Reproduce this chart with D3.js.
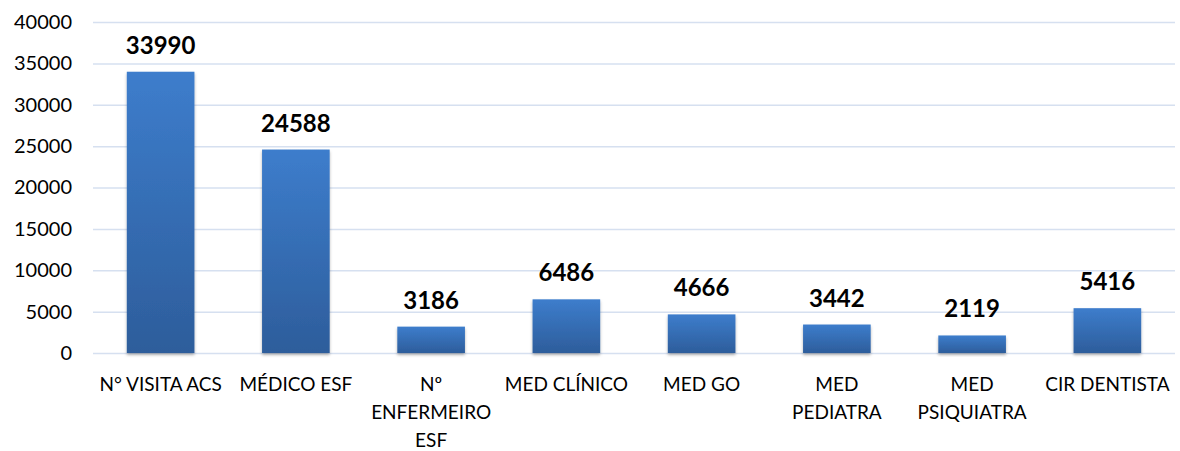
<!doctype html>
<html>
  <head>
    <meta charset="utf-8">
    <script src="https://cdn.jsdelivr.net/npm/d3@7/dist/d3.min.js"></script>
    <style>
      body { margin: 0; background: #fff; }
      text { font-family: Lato, "Open Sans", sans-serif; }
    </style>
  </head>
  <body>
    <div id="chart"></div>
    <script>
      // data
      var categories = ["N° VISITA ACS", "MÉDICO ESF", "Nº ENFERMEIRO ESF", "MED CLÍNICO",
                        "MED GO", "MED PEDIATRA", "MED PSIQUIATRA", "CIR DENTISTA"];
      var values = [33990, 24588, 3186, 6486, 4666, 3442, 2119, 5416];
      var yTicks = [0, 5000, 10000, 15000, 20000, 25000, 30000, 35000, 40000];
      // how each category label is broken in lines
      var labelLines = [["N° VISITA ACS"], ["MÉDICO ESF"], ["Nº", "ENFERMEIRO", "ESF"], ["MED CLÍNICO"],
                        ["MED GO"], ["MED", "PEDIATRA"], ["MED", "PSIQUIATRA"], ["CIR DENTISTA"]];

      var data = categories.map(function(c, i) { return {name: c, value: values[i], lines: labelLines[i]}; });

      var W = 1180, H = 451;
      var margin = {top: 22, right: 5, bottom: 98, left: 93};
      var width = W - margin.left - margin.right,
          height = H - margin.top - margin.bottom;

      var svg = d3.select("#chart").append("svg")
          .attr("width", W).attr("height", H)
        .append("g")
          .attr("transform", "translate(" + margin.left + "," + margin.top + ")");

      var defs = svg.append("defs");
      var grad = defs.append("linearGradient")
          .attr("id", "barGrad").attr("x1", 0).attr("y1", 0).attr("x2", 0).attr("y2", 1);
      grad.append("stop").attr("offset", "0%").attr("stop-color", "#3d7dcc");
      grad.append("stop").attr("offset", "100%").attr("stop-color", "#2d5d9b");

      var shadow = defs.append("filter").attr("id", "shadow")
          .attr("x", "-20%").attr("y", "-20%").attr("width", "140%").attr("height", "140%");
      shadow.append("feDropShadow").attr("dx", 0).attr("dy", 2).attr("stdDeviation", 1.5)
          .attr("flood-color", "#000").attr("flood-opacity", 0.3);

      var x = d3.scaleBand()
          .domain(categories)
          .range([0, width])
          .paddingInner(0.5)
          .paddingOuter(0.25);

      var y = d3.scaleLinear()
          .domain([0, 40000])
          .range([height, 0]);

      // gridlines
      svg.append("g")
          .call(d3.axisLeft(y).tickValues(yTicks).tickSize(-width).tickFormat(""))
          .call(function(g) {
            g.select(".domain").remove();
            g.selectAll("line").attr("stroke", "#d6e0f0").attr("stroke-width", 1.5);
          });

      // y labels
      svg.append("g")
          .call(d3.axisLeft(y).tickValues(yTicks).tickSize(0).tickPadding(21).tickFormat(d3.format("d")))
          .call(function(g) {
            g.select(".domain").remove();
            g.selectAll("text").attr("font-size", 20).attr("fill", "#000");
          });

      // bars
      svg.selectAll("myBars")
        .data(data)
        .enter()
        .append("rect")
          .attr("x", function(d) { return x(d.name); })
          .attr("y", function(d) { return y(d.value); })
          .attr("width", x.bandwidth())
          .attr("height", function(d) { return height - y(d.value); })
          .attr("fill", "url(#barGrad)")
          .attr("filter", "url(#shadow)");

      // value labels
      svg.selectAll("myValues")
        .data(data)
        .enter()
        .append("text")
          .attr("x", function(d) { return x(d.name) + x.bandwidth() / 2; })
          .attr("y", function(d) { return y(d.value) - 18; })
          .attr("text-anchor", "middle")
          .attr("font-size", 24)
          .attr("font-weight", "bold")
          .attr("fill", "#000")
          .text(function(d) { return d.value; });

      // category labels
      var cat = svg.selectAll("myCats")
        .data(data)
        .enter()
        .append("text")
          .attr("text-anchor", "middle")
          .attr("font-size", 19)
          .attr("fill", "#000")
          .attr("transform", function(d) {
            return "translate(" + (x(d.name) + x.bandwidth() / 2) + "," + (height + 38) + ")";
          });
      cat.selectAll("tspan")
        .data(function(d) { return d.lines; })
        .enter()
        .append("tspan")
          .attr("x", 0)
          .attr("dy", function(d, i) { return i === 0 ? 0 : 28; })
          .text(function(d) { return d; });
    </script>
  </body>
</html>
